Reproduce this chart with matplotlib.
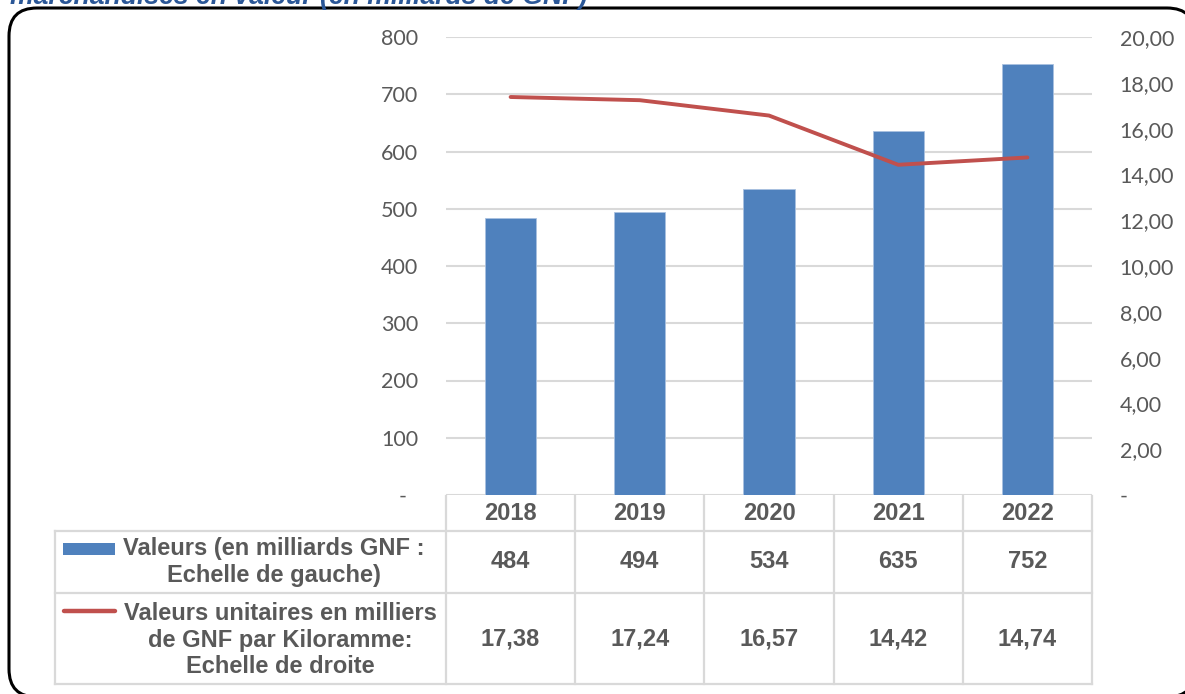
import matplotlib
matplotlib.use('Agg')
import matplotlib.pyplot as plt
import matplotlib.transforms as mtransforms
from matplotlib.patches import FancyBboxPatch, Rectangle
from matplotlib.lines import Line2D

# ---------------- data ----------------
years = ['2018', '2019', '2020', '2021', '2022']
valeurs = [484, 494, 534, 635, 752]
unitaires = [17.38, 17.24, 16.57, 14.42, 14.74]
left_ticks = [0, 100, 200, 300, 400, 500, 600, 700, 800]
right_ticks = [0, 2, 4, 6, 8, 10, 12, 14, 16, 18, 20]
label_bar = 'Valeurs (en milliards GNF :\nEchelle de gauche)'
label_line = 'Valeurs unitaires en milliers\nde GNF par Kiloramme:\nEchelle de droite'
title = 'marchandises en valeur (en milliards de GNF)'

BAR_C = '#4F81BD'
LINE_C = '#C0504D'
GRID_C = '#D9D9D9'
TXT_C = '#595959'

W, H = 1185, 694
fig = plt.figure(figsize=(W / 100, H / 100), dpi=100)
fig.patch.set_facecolor('white')


def fx(px):
    return px / W


def fy(py):
    return 1 - py / H


# rounded frame (pixel coordinates), filled white so it is not path-clipped
pix = mtransforms.IdentityTransform()
frame = FancyBboxPatch((9, H - 697), 1195 - 9, 697 - 8,
                       boxstyle='round,pad=0,rounding_size=28',
                       transform=pix, facecolor='white', edgecolor='black',
                       linewidth=2.2, zorder=-5)
fig.add_artist(frame)

# title (cut off at top)
fig.text(fx(10), fy(4), title, fontsize=19.2, fontweight='bold', style='italic',
         family='Liberation Sans', color='#2B5797', ha='left', va='baseline',
         zorder=5)

# ---------------- main axes ----------------
ax = fig.add_axes([fx(446), fy(495), fx(1092) - fx(446), fy(37) - fy(495)])
ax.patch.set_alpha(0)
xs = list(range(len(years)))
ax.bar(xs, valeurs, width=0.395, color=BAR_C, edgecolor='#A9C1E0',
       linewidth=0.6, zorder=2)
ax.set_xlim(-0.5, len(years) - 0.5)
ax.set_ylim(0, 800)
ax.set_yticks(left_ticks)
ax.set_yticklabels(['-  ' if v == 0 else str(v) for v in left_ticks],
                   family='Lato', fontsize=15.5, color=TXT_C)
ax.yaxis.grid(True, color=GRID_C, linewidth=1.5)
ax.set_axisbelow(True)
for s in ax.spines.values():
    s.set_visible(False)
ax.tick_params(axis='y', length=0, pad=20)
ax.set_xticks([])

ax2 = ax.twinx()
ax2.plot(xs, unitaires, color=LINE_C, linewidth=2.8, solid_capstyle='round',
         zorder=3)
ax2.set_ylim(0, 20)
ax2.set_yticks(right_ticks)
ax2.set_yticklabels(['-' if v == 0 else f'{v:.2f}'.replace('.', ',')
                     for v in right_ticks],
                    family='Lato', fontsize=15.5, color=TXT_C)
ax2.tick_params(axis='y', length=0, pad=20)
for s in ax2.spines.values():
    s.set_visible(False)
ax2.set_xlim(-0.5, len(years) - 0.5)

# ---------------- data table ----------------
bt = mtransforms.blended_transform_factory(ax.transData, fig.transFigure)
y_top, y_h, y_r1, y_bot = 496, 531, 593, 684
x_left_px = 55


def hline(y, x0_px, x1_px):
    fig.add_artist(Line2D([fx(x0_px), fx(x1_px)], [fy(y), fy(y)],
                          transform=fig.transFigure, color=GRID_C,
                          linewidth=1.6, zorder=1))


def vline_fig(x_px, y0, y1):
    fig.add_artist(Line2D([fx(x_px), fx(x_px)], [fy(y0), fy(y1)],
                          transform=fig.transFigure, color=GRID_C,
                          linewidth=1.6, zorder=1))


hline(y_h, x_left_px, 1092)
hline(y_r1, x_left_px, 1092)
hline(y_bot, x_left_px, 1092)
vline_fig(x_left_px, y_h, y_bot)
for i in range(len(years) + 1):
    xb = i - 0.5
    fig.add_artist(Line2D([xb, xb], [fy(y_top), fy(y_bot)], transform=bt,
                          color=GRID_C, linewidth=1.6, zorder=1))

tfont = dict(family='Liberation Sans', fontweight='bold', fontsize=17,
             color=TXT_C, ha='center', va='center')
for i, yr in enumerate(years):
    fig.text(i, fy(514), yr, transform=bt, **tfont)
    fig.text(i, fy(562), str(valeurs[i]), transform=bt, **tfont)
    fig.text(i, fy(639), f'{unitaires[i]:.2f}'.replace('.', ','),
             transform=bt, **tfont)

fig.text(fx(274), fy(562), label_bar, multialignment='center',
         linespacing=1.2, **tfont)
fig.text(fx(280), fy(640), label_line, multialignment='center',
         linespacing=1.2, **tfont)

# legend keys
fig.add_artist(Rectangle((fx(63), fy(555)), fx(115) - fx(63), fy(543) - fy(555),
                         transform=fig.transFigure, facecolor=BAR_C,
                         edgecolor='none'))
fig.add_artist(Line2D([fx(64), fx(115)], [fy(611), fy(611)],
                      transform=fig.transFigure, color=LINE_C, linewidth=3.2,
                      solid_capstyle='round'))

fig.savefig('out.png', dpi=100)
